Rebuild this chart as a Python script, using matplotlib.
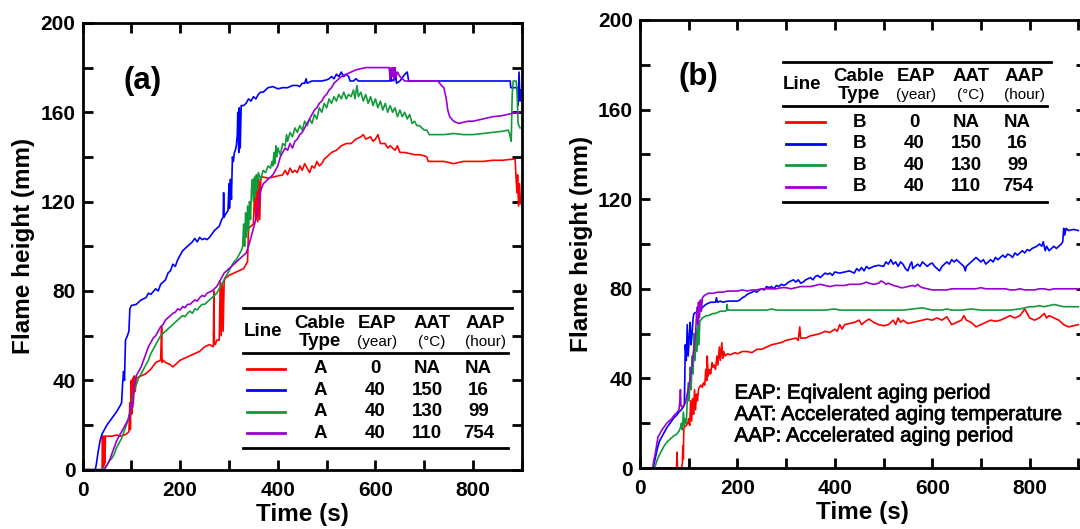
import matplotlib
matplotlib.use("Agg")
import matplotlib.pyplot as plt
import matplotlib.patheffects as pe
from matplotlib.ticker import MultipleLocator

plt.rcParams['font.family'] = ['Liberation Sans', 'DejaVu Sans']

RED = '#ff0000'
BLUE = '#0000ff'
GREEN = '#129a3a'
PURPLE = '#9a00d0'

# (time s, flame height mm), panel (a) cable A
red_a = [(0, 0), (40, 0), (41, 15), (42, 0), (43, 15), (44, 2), (45, 15), (46, 3), (47, 15), (50, 15),
         (60, 15), (70, 15.5), (80, 15), (90, 16), (95, 17), (97, 30), (98, 18), (100, 40), (101, 25),
         (103, 41), (104, 30), (106, 42), (108, 35), (110, 41), (120, 42), (130, 43), (140, 45), (150, 48),
         (160, 49), (162, 64), (163, 48), (165, 49), (170, 48), (180, 47), (185, 46), (190, 47), (200, 49),
         (210, 50), (220, 51), (230, 52), (240, 53), (250, 55), (260, 56), (268, 55), (269, 80), (270, 57),
         (272, 56), (275, 58), (280, 58), (282, 84), (284, 60), (286, 83), (288, 62), (290, 84), (292, 86),
         (295, 86), (300, 87), (310, 88), (320, 89), (330, 90), (335, 92), (338, 93), (340, 108), (345, 109),
         (350, 110), (353, 128), (355, 112), (357, 130), (359, 111), (361, 130), (363, 112), (365, 130),
         (367, 131), (370, 131), (380, 130.5), (390, 131), (400, 131.5), (410, 132), (415, 134), (420, 132),
         (425, 135), (430, 133), (435, 134), (440, 133), (445, 136), (450, 134), (455, 137), (460, 135),
         (465, 133), (470, 136), (475, 135), (480, 138), (485, 136), (490, 137), (495, 139), (500, 140),
         (510, 142), (520, 143), (530, 145), (540, 146), (550, 146), (560, 148), (570, 149), (575, 150),
         (580, 148), (590, 149), (595, 147), (600, 148), (605, 150), (610, 146), (620, 146), (625, 144),
         (630, 145), (640, 143), (645, 145), (650, 142), (660, 142), (670, 141.5), (680, 141), (690, 141),
         (700, 140.5), (705, 140), (708, 138), (720, 138), (740, 138), (750, 137.5), (760, 137), (770, 137.5),
         (780, 138), (800, 138), (820, 138), (840, 138.5), (860, 138.5), (880, 139), (886, 139), (888, 130),
         (890, 124), (891, 132), (893, 118), (895, 128), (897, 119)]

blue_a = [(0, 0), (26, 0), (28, 2), (32, 8), (36, 13), (40, 16), (50, 20), (60, 23), (70, 26), (78, 29),
          (80, 30), (82, 38), (84, 44), (86, 40), (88, 58), (92, 60), (95, 62), (97, 72), (100, 73.5),
          (110, 74), (120, 76), (130, 77), (135, 79), (140, 78.5), (150, 81), (155, 80), (160, 83), (170, 85),
          (175, 88), (180, 89), (185, 92), (190, 91), (195, 94), (200, 96), (205, 98), (210, 99), (215, 100),
          (220, 101), (225, 102), (230, 103.5), (235, 102), (240, 104), (245, 103), (250, 103.5), (255, 103),
          (260, 104), (265, 105.5), (270, 107), (280, 109), (285, 112), (288, 113), (289, 124), (290, 113),
          (292, 114), (295, 115), (298, 116), (300, 128), (301, 117), (303, 130), (305, 121), (307, 140),
          (309, 138), (311, 142), (313, 143), (315, 145), (317, 150), (318, 160), (320, 142), (321, 162),
          (323, 144), (325, 163), (330, 163), (335, 164), (340, 166), (345, 165), (350, 167), (355, 166),
          (360, 168), (365, 169), (370, 169), (375, 170), (380, 171), (390, 171.5), (400, 170.5), (410, 171),
          (420, 171), (430, 172), (440, 172), (445, 171.5), (450, 173), (455, 173), (458, 175), (460, 173),
          (470, 174), (480, 174), (490, 174), (500, 174.5), (505, 175), (510, 176), (515, 175), (520, 177),
          (525, 176), (530, 178), (535, 176), (540, 177), (545, 176), (548, 174), (555, 174), (560, 175),
          (565, 174), (570, 174), (600, 174), (630, 174), (631, 178), (633, 174), (640, 175), (641, 178),
          (643, 173), (650, 174), (660, 177), (665, 178), (668, 174), (700, 174), (750, 174), (800, 174),
          (850, 174), (876, 174), (877, 171), (890, 171), (892, 163), (894, 178), (896, 165), (898, 170)]

green_a = [(0, 0), (38, 0), (45, 1), (50, 2), (55, 4), (60, 5), (65, 7), (70, 10), (75, 12), (80, 14),
           (85, 17), (90, 20), (95, 24), (100, 28), (103, 33), (106, 36), (110, 38), (115, 41), (120, 43),
           (125, 45), (130, 47), (135, 49), (140, 52), (145, 54), (150, 56), (155, 58), (160, 60), (165, 61),
           (170, 62), (175, 63), (180, 64), (185, 65), (190, 66), (195, 67), (200, 68), (205, 69), (210, 68.5),
           (215, 70), (220, 71), (225, 70), (230, 72), (235, 71.5), (240, 73), (245, 74), (250, 74), (255, 75),
           (260, 76), (265, 77), (270, 78), (275, 79), (280, 81), (285, 83), (290, 85), (295, 87), (300, 89),
           (305, 91), (310, 93), (315, 94), (320, 96), (325, 98), (328, 100), (330, 110), (332, 100), (334, 115),
           (336, 104), (338, 118), (340, 107), (342, 120), (344, 112), (346, 125), (348, 130), (350, 120),
           (352, 131), (354, 122), (356, 132), (358, 125), (360, 133), (365, 130), (370, 134), (375, 133),
           (380, 136), (385, 135), (388, 138), (390, 136), (392, 142), (394, 137), (396, 145), (398, 140),
           (400, 144), (405, 141), (410, 146), (415, 145), (418, 150), (420, 147), (425, 151), (430, 149),
           (435, 153), (440, 151), (445, 154), (450, 152), (455, 156), (460, 154), (465, 157), (470, 155),
           (475, 159), (480, 157), (485, 162), (490, 160), (495, 164), (500, 162), (505, 166), (510, 164),
           (515, 167), (520, 165), (525, 168), (530, 166), (535, 169), (540, 166), (545, 168), (550, 167),
           (555, 170), (558, 166), (562, 172), (565, 167), (570, 169), (575, 165), (580, 168), (585, 164),
           (590, 167), (595, 163), (600, 166), (605, 162), (610, 165), (615, 161), (620, 164), (625, 160),
           (630, 163), (635, 160), (640, 162), (645, 158), (650, 161), (655, 158), (660, 160), (665, 157),
           (670, 159), (675, 155), (680, 156), (685, 154), (690, 154), (695, 153), (700, 152), (705, 152),
           (710, 150), (720, 150), (740, 150), (760, 150.5), (780, 150), (800, 150), (820, 150.5), (840, 151),
           (860, 151.5), (872, 152), (875, 150), (878, 147), (880, 168), (882, 174), (888, 174), (890, 170),
           (892, 155), (896, 153)]

purple_a = [(0, 0), (45, 0), (50, 2), (55, 4), (60, 7), (65, 10), (70, 13), (75, 15), (80, 17), (85, 19),
            (90, 21), (95, 23), (98, 26), (100, 30), (103, 28), (105, 36), (108, 40), (110, 42), (115, 44),
            (120, 46), (125, 49), (130, 52), (135, 55), (140, 57), (145, 59), (150, 60), (155, 62), (160, 64),
            (165, 65), (170, 67), (175, 68), (180, 69), (185, 70), (190, 70.5), (195, 72), (200, 71.5),
            (205, 73), (210, 72.5), (215, 74), (220, 74), (225, 75), (230, 76), (235, 75.5), (240, 77),
            (245, 78), (250, 77.5), (255, 79), (260, 79.5), (265, 80), (270, 81), (275, 82), (280, 84),
            (285, 86), (290, 88), (295, 89), (300, 90), (310, 92), (320, 94), (330, 96), (335, 97), (340, 100),
            (345, 104), (350, 108), (355, 112), (360, 118), (365, 125), (370, 128), (375, 129), (380, 130),
            (385, 131), (390, 132), (395, 134), (400, 136), (405, 140), (410, 142), (415, 144), (420, 143),
            (425, 146), (430, 144), (435, 147), (440, 148), (445, 150), (450, 151), (455, 153), (460, 155),
            (465, 157), (470, 159), (475, 161), (480, 162), (485, 164), (490, 165), (495, 167), (500, 168),
            (505, 170), (510, 171), (515, 173), (520, 174), (525, 175), (530, 176), (540, 177), (550, 178),
            (560, 179), (570, 179.5), (580, 180), (600, 180), (620, 180), (628, 180), (630, 175), (632, 180),
            (634, 176), (636, 180), (638, 174), (640, 180), (642, 176), (645, 178), (650, 176), (660, 174),
            (680, 174), (700, 174), (720, 174), (728, 174), (735, 172), (740, 171), (745, 166), (748, 161),
            (752, 158), (760, 156), (770, 155), (780, 155.5), (790, 156), (800, 156), (820, 157), (840, 158),
            (860, 158.5), (880, 159.5), (895, 160)]

# panel (b) cable B
red_b = [(0, 0), (73, 0), (75, 0), (76, 7), (77, 0), (85, 0), (87, 2), (88, 10), (89, 4), (90, 18), (95, 19),
         (98, 20), (100, 22), (102, 19), (104, 30), (106, 21), (108, 31), (110, 24), (112, 35), (114, 26),
         (116, 33), (118, 30), (120, 35), (122, 36), (125, 37), (128, 36), (130, 38), (133, 37), (135, 44),
         (137, 39), (138, 50), (140, 41), (143, 44), (145, 42), (148, 47), (150, 45), (152, 46), (155, 44),
         (158, 50), (160, 46), (163, 54), (165, 48), (168, 56), (170, 49), (172, 52), (175, 50), (180, 51),
         (185, 50.5), (190, 51), (195, 51.5), (200, 51), (210, 52), (220, 52), (230, 51.5), (240, 53),
         (250, 53), (260, 54), (270, 55), (280, 55.5), (290, 56), (300, 57), (310, 57.5), (320, 58), (325, 57),
         (328, 63), (330, 58), (340, 58), (350, 59), (360, 59.5), (370, 60), (380, 61), (390, 60.5), (400, 62),
         (405, 61), (410, 64), (415, 62), (420, 64), (430, 64.5), (440, 65), (450, 66), (455, 64), (460, 65),
         (470, 66.5), (480, 65), (490, 64), (500, 63.5), (510, 64), (520, 66), (525, 64), (530, 67), (535, 65),
         (540, 66), (550, 64.5), (560, 65), (570, 65.5), (580, 66), (590, 66.5), (600, 66), (610, 67),
         (620, 66), (630, 67.5), (640, 64), (650, 65), (660, 66), (665, 68), (670, 66), (680, 65), (690, 63),
         (700, 64), (710, 65), (720, 66), (730, 65.5), (740, 66), (750, 67), (760, 68), (770, 67), (780, 68),
         (790, 71), (795, 69), (800, 67), (810, 66), (820, 67), (830, 69), (835, 67), (840, 68), (850, 67),
         (860, 66), (870, 64), (880, 63), (900, 64)]

blue_b = [(0, 0), (27, 0), (30, 3), (33, 6), (36, 9), (40, 12), (45, 14), (50, 16), (55, 18), (60, 19.5),
          (65, 21), (70, 22.5), (75, 23.5), (80, 25), (85, 26), (88, 27), (91, 28), (92, 40), (93, 55), (95, 48),
          (97, 64), (99, 50), (101, 58), (103, 65), (105, 55), (107, 60), (109, 67), (111, 69), (115, 69.5),
          (120, 70), (125, 71), (130, 72), (135, 73), (140, 73.5), (145, 74), (150, 74), (155, 74), (157, 76),
          (159, 74), (165, 74.5), (170, 74), (180, 74.5), (190, 74.5), (200, 74.5), (205, 75), (210, 76),
          (215, 76.5), (220, 77.5), (225, 78), (230, 78.5), (235, 79), (240, 78.5), (245, 79.5), (250, 80),
          (255, 79.5), (260, 81), (265, 80.5), (270, 81), (275, 80), (280, 81.5), (285, 81), (290, 82),
          (295, 81.5), (300, 82), (305, 83), (310, 83.5), (315, 84), (320, 83), (325, 84), (330, 82.5),
          (335, 83), (340, 84), (345, 84.5), (350, 85), (355, 84), (360, 85.5), (365, 86), (370, 85), (375, 86),
          (380, 87), (385, 86.5), (390, 87), (395, 86), (400, 87.5), (410, 87), (420, 87.5), (430, 88),
          (440, 87), (445, 89), (450, 88), (455, 89.5), (460, 88), (465, 90), (470, 89), (475, 89.5), (480, 90),
          (490, 90.5), (500, 90), (505, 92), (510, 91), (515, 93), (520, 91), (525, 92), (530, 90), (535, 92),
          (540, 91), (545, 89), (550, 88), (555, 91), (558, 92), (560, 89), (565, 90), (570, 91), (575, 90),
          (580, 92), (585, 91), (590, 90), (595, 91), (600, 91.5), (605, 90), (610, 89), (615, 88), (620, 90),
          (625, 91), (630, 92), (635, 91), (640, 93), (645, 92), (650, 93), (655, 92), (660, 91), (665, 90),
          (668, 88), (670, 90), (675, 91), (680, 92), (685, 93), (690, 94), (695, 93), (700, 92), (705, 93),
          (710, 91), (715, 92), (720, 93), (725, 92), (730, 94), (735, 93), (740, 94), (745, 95), (750, 94),
          (755, 95.5), (760, 95), (765, 94), (770, 96), (775, 95), (780, 96), (785, 97), (790, 96), (795, 97.5),
          (800, 97), (805, 98), (810, 98.5), (815, 99), (820, 100), (825, 99), (828, 101), (832, 97), (835, 99),
          (840, 97), (845, 98), (850, 99), (855, 98), (860, 99), (865, 100), (868, 101), (870, 107), (872, 104),
          (875, 107), (880, 106), (890, 106.5), (900, 106)]

green_b = [(0, 0), (30, 0), (33, 2), (36, 4), (40, 6), (45, 8), (50, 10), (55, 11.5), (60, 12.5), (65, 13.5),
           (70, 14.5), (75, 15), (80, 16.5), (83, 18), (85, 20), (87, 17), (89, 25), (91, 19), (93, 22),
           (95, 20), (97, 30), (99, 38), (101, 30), (103, 45), (105, 35), (107, 50), (109, 42), (111, 60),
           (113, 48), (115, 62), (117, 52), (119, 64), (121, 55), (123, 66), (125, 66), (128, 67), (132, 67.5),
           (136, 68), (140, 68), (145, 68.5), (150, 69), (155, 69), (160, 69.5), (165, 70), (170, 70), (175, 70),
           (178, 70.5), (179, 73), (180, 70.5), (190, 70.5), (200, 70.5), (220, 70.5), (240, 70.5), (260, 70.5),
           (270, 71), (280, 70.5), (300, 70.5), (320, 70.5), (340, 70.5), (360, 70.5), (380, 70.5), (400, 71),
           (410, 70.5), (440, 70.5), (460, 70.5), (480, 70.5), (500, 70.5), (520, 70.5), (540, 70.5), (560, 71),
           (580, 71.5), (590, 71), (600, 70.5), (620, 70.5), (630, 71), (640, 70.5), (660, 70.5), (680, 71),
           (700, 70.5), (720, 70.5), (740, 70.5), (760, 70.5), (780, 71), (790, 71.5), (800, 72), (810, 72),
           (820, 72.5), (830, 72), (840, 72.5), (850, 73), (860, 72.5), (870, 72), (880, 72), (900, 72)]

purple_b = [(0, 0), (26, 0), (28, 3), (31, 6), (34, 10), (37, 14), (40, 15), (45, 17), (50, 18.5), (55, 20),
            (60, 21), (65, 22), (70, 23.5), (75, 24.5), (80, 26), (82, 30), (83, 35), (84, 28), (87, 27),
            (90, 28), (93, 29), (96, 32), (100, 36), (103, 40), (106, 45), (109, 50), (112, 56), (114, 60),
            (116, 68), (118, 72), (119, 64), (120, 74), (122, 67), (124, 75), (126, 70), (128, 76), (132, 77),
            (136, 77.5), (140, 78), (150, 78), (160, 78.5), (170, 78.5), (180, 79), (190, 79), (200, 79),
            (210, 79.5), (220, 79), (230, 79.5), (240, 79.5), (250, 80), (260, 80), (270, 80), (280, 80),
            (290, 80.5), (300, 80.5), (310, 80), (320, 80.5), (330, 81), (340, 81), (350, 81), (360, 81.5),
            (370, 82), (380, 81.5), (390, 81), (400, 81.5), (410, 81.5), (420, 81.5), (430, 82), (440, 82),
            (450, 82), (460, 82.5), (465, 83), (470, 82.5), (480, 82), (490, 82.5), (495, 83.5), (500, 83),
            (505, 82), (510, 82.5), (520, 81.5), (530, 81), (535, 80.5), (540, 80.5), (550, 81), (560, 81.5),
            (565, 81), (570, 82), (575, 81), (580, 80.5), (590, 80), (600, 79.5), (610, 79.5), (620, 79.5),
            (630, 79.5), (640, 80), (650, 80), (660, 80), (670, 80), (680, 80), (690, 80), (700, 80.5), (710, 80),
            (720, 80), (730, 80), (740, 80), (750, 80), (760, 79.5), (770, 79.5), (780, 80), (790, 79.5),
            (800, 79.5), (810, 79.5), (820, 80), (830, 80), (840, 79.5), (850, 80), (860, 80), (870, 80),
            (880, 80), (900, 80)]

line_colors = [RED, BLUE, GREEN, PURPLE]
eap = ['0', '40', '40', '40']
aat = ['NA', '150', '130', '110']
aap = ['NA', '16', '99', '754']
notes = ['EAP: Eqivalent aging period',
         'AAT: Accelerated aging temperature',
         'AAP: Accelerated aging period']


def style_axes(ax, xmax):
    ax.set_xlim(0, xmax)
    ax.set_ylim(0, 200)
    ax.xaxis.set_major_locator(MultipleLocator(200))
    ax.xaxis.set_minor_locator(MultipleLocator(100))
    ax.yaxis.set_major_locator(MultipleLocator(40))
    ax.yaxis.set_minor_locator(MultipleLocator(20))
    ax.tick_params(which='both', direction='in', top=True, right=True, length=7.5, width=2)
    ax.tick_params(axis='x', which='major', pad=8, labelsize=15)
    ax.tick_params(axis='y', which='major', pad=5, labelsize=15)
    for lab in ax.get_xticklabels() + ax.get_yticklabels():
        lab.set_fontweight('bold')
    for sp in ax.spines.values():
        sp.set_linewidth(2)
    ax.set_xlabel('Time (s)', fontsize=17.5, fontweight='bold', labelpad=2)
    ax.set_ylabel('Flame height (mm)', fontsize=17.5, fontweight='bold', labelpad=4)


def draw_table(ax, cable, x0, ytop):
    kw = dict(ha='center', va='center', fontweight='bold', fontsize=13.5)
    small = dict(ha='center', va='center', fontsize=11)
    ax.plot([x0, x0 + 550], [ytop, ytop], color='black', lw=2)
    ax.plot([x0, x0 + 542], [ytop - 20, ytop - 20], color='black', lw=2)
    ax.plot([x0, x0 + 542], [ytop - 62.7, ytop - 62.7], color='black', lw=2)
    ax.text(x0 + 40, ytop - 10.35, 'Line', **kw)
    ax.text(x0 + 157, ytop - 6.8, 'Cable', **kw)
    ax.text(x0 + 157, ytop - 14.85, 'Type', **kw)
    ax.text(x0 + 274.5, ytop - 6.8, 'EAP', **kw)
    ax.text(x0 + 274.5, ytop - 14.85, '(year)', **small)
    ax.text(x0 + 386.5, ytop - 6.8, 'AAT', **kw)
    ax.text(x0 + 386.5, ytop - 14.85, '(\u00b0C)', **small)
    ax.text(x0 + 496, ytop - 6.8, 'AAP', **kw)
    ax.text(x0 + 496, ytop - 14.85, '(hour)', **small)
    rows = [27, 36.65, 46.3, 55.85]
    for i, dy in enumerate(rows):
        y = ytop - dy
        ax.plot([x0 + 7, x0 + 86], [y, y], color=line_colors[i], lw=2)
        ax.text(x0 + 157, y, cable, **kw)
        ax.text(x0 + 270, y, eap[i], **kw)
        ax.text(x0 + 377, y, aat[i], **kw)
        ax.text(x0 + 482, y, aap[i], **kw)


def plot_series(ax, series):
    for pts, c in zip(series, line_colors):
        t = [p[0] for p in pts]
        h = [p[1] for p in pts]
        ax.plot(t, h, color=c, lw=1.2)


fig = plt.figure(figsize=(10.8, 5.29), dpi=100)
ax_a = fig.add_axes([0.0764, 0.1121, 0.4069, 0.8446])
ax_b = fig.add_axes([0.5926, 0.1153, 0.4126, 0.8469])

plot_series(ax_a, [red_a, blue_a, green_a, purple_a])
plot_series(ax_b, [red_b, blue_b, green_b, purple_b])

style_axes(ax_a, 900)
style_axes(ax_b, 915)

ax_a.text(122, 174, '(a)', ha='center', va='center', fontsize=22.5, fontweight='bold')
ax_b.text(120, 174.5, '(b)', ha='center', va='center', fontsize=22.5, fontweight='bold')

draw_table(ax_a, 'A', 329, 72.2)
draw_table(ax_b, 'B', 293, 181.4)

for i, s in enumerate(notes):
    ax_b.text(194, 33.4 - 9.55 * i, s, ha='left', va='center', fontsize=14.8,
              path_effects=[pe.withStroke(linewidth=0.5, foreground='black')])

fig.savefig('out.png', dpi=100)
